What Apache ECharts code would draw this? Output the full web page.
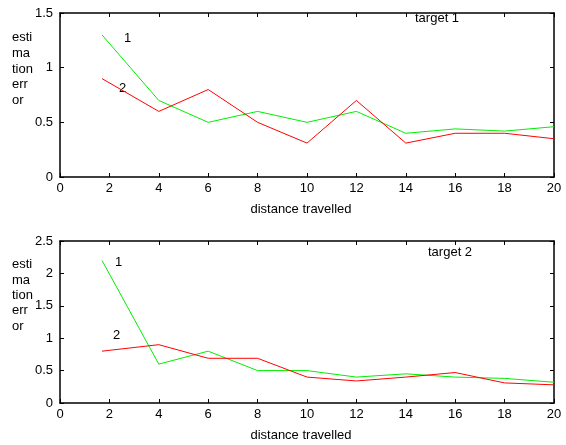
<!DOCTYPE html>
<html>
<head>
<meta charset="utf-8">
<script src="https://cdn.jsdelivr.net/npm/echarts@6/dist/echarts.min.js"></script>
<style>
  html, body { margin: 0; padding: 0; background: #fff; }
  #chart { width: 566px; height: 445px; }
</style>
</head>
<body>
<div id="chart"></div>
<script>
// distances along the route
const distance = [1.7, 4, 6, 8, 10, 12, 14, 16, 18, 20]

// target 1
const t1Line1 = [1.3, 0.7, 0.5, 0.6, 0.5, 0.6, 0.4, 0.44, 0.42, 0.46]
const t1Line2 = [0.9, 0.6, 0.8, 0.5, 0.31, 0.7, 0.31, 0.4, 0.4, 0.35]

// target 2
const t2Line1 = [2.2, 0.6, 0.8, 0.5, 0.5, 0.4, 0.45, 0.4, 0.38, 0.32]
const t2Line2 = [0.8, 0.9, 0.69, 0.69, 0.4, 0.34, 0.4, 0.47, 0.31, 0.28]

const xTicks = [0, 20, 2]
const yTicks1 = [0, 1.5, 0.5]
const yTicks2 = [0, 2.5, 0.5]

const font = 'Liberation Sans, Arial, sans-serif'
const green = '#00ee00'
const red = '#ff0000'

function pairs(xs, ys) {
  return xs.map((x, i) => [x, ys[i]])
}

function xAxes(gridIndex) {
  let base = {
    type: 'value',
    gridIndex: gridIndex,
    min: xTicks[0],
    max: xTicks[1],
    interval: xTicks[2],
    splitLine: { show: false },
    axisLine: { onZero: false, lineStyle: { color: '#000', width: 1.5 } },
    axisTick: { inside: true, length: 4, lineStyle: { color: '#000' } }
  }
  return [
    Object.assign({}, base, {
      position: 'bottom',
      name: 'distance travelled',
      nameLocation: 'middle',
      nameGap: 26,
      nameTextStyle: { color: '#000', fontFamily: font, fontSize: 13, padding: [0, 12, 0, 0] },
      axisLabel: { color: '#000', fontFamily: font, fontSize: 13, margin: 5 }
    }),
    Object.assign({}, base, { position: 'top', axisLabel: { show: false } })
  ]
}

function yAxes(gridIndex, ticks) {
  let base = {
    type: 'value',
    gridIndex: gridIndex,
    min: ticks[0],
    max: ticks[1],
    interval: ticks[2],
    splitLine: { show: false },
    axisLine: { onZero: false, lineStyle: { color: '#000', width: 1.5 } },
    axisTick: { inside: true, length: 4, lineStyle: { color: '#000' } }
  }
  return [
    Object.assign({}, base, {
      position: 'left',
      axisLabel: { color: '#000', fontFamily: font, fontSize: 13, margin: 7 }
    }),
    Object.assign({}, base, { position: 'right', axisLabel: { show: false } })
  ]
}

function line(xi, yi, data, color) {
  return {
    type: 'line',
    xAxisIndex: xi,
    yAxisIndex: yi,
    data: data,
    symbol: 'none',
    silent: true,
    lineStyle: { color: color, width: 1 }
  }
}

function text(x, y, str, extra) {
  return {
    type: 'text',
    left: x,
    top: y,
    style: Object.assign({ text: str, fill: '#000', font: '13px ' + font }, extra || {})
  }
}

let option = {
  animation: false,
  grid: [
    { left: 60, top: 13, width: 494, height: 164 },
    { left: 60, top: 241, width: 494, height: 162 }
  ],
  xAxis: xAxes(0).concat(xAxes(1)),
  yAxis: yAxes(0, yTicks1).concat(yAxes(1, yTicks2)),
  series: [
    line(0, 0, pairs(distance, t1Line1), green),
    line(0, 0, pairs(distance, t1Line2), red),
    line(2, 2, pairs(distance, t2Line1), green),
    line(2, 2, pairs(distance, t2Line2), red)
  ],
  graphic: [
    text(12, 30, 'esti\nma\ntion\nerr\nor', { lineHeight: 15.6 }),
    text(12, 257, 'esti\nma\ntion\nerr\nor', { lineHeight: 15.4 }),
    text(124, 32, '1'),
    text(119, 82, '2'),
    text(115, 256, '1'),
    text(113, 329, '2'),
    text(415, 12, 'target 1'),
    text(428, 246, 'target 2')
  ]
}

let myChart = echarts.init(document.getElementById('chart'))
myChart.setOption(option)
</script>
</body>
</html>
